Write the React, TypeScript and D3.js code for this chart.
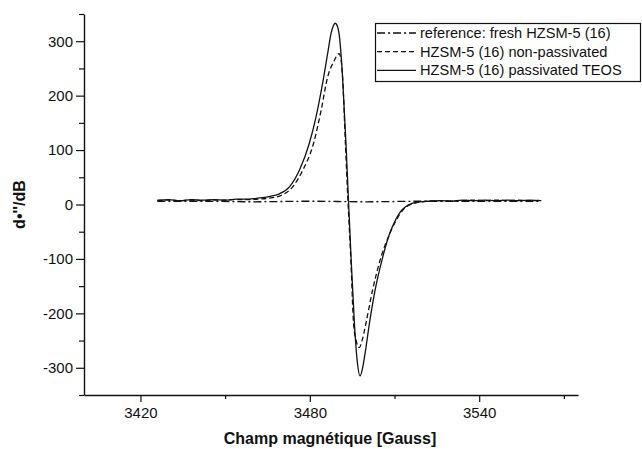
import React, { useRef, useEffect } from 'react';
import * as d3 from 'd3';

// field [Gauss], signal values
const referenceFresh: [number, number][] = [
  [3426, 6], [3440, 6], [3460, 5], [3480, 6], [3500, 5], [3520, 6], [3540, 6], [3562, 6]
];

const nonPassivated: [number, number][] = [
  [3426, 7], [3430, 8], [3434, 7], [3438, 8], [3442, 7], [3446, 8], [3450, 8], [3454, 9],
  [3458, 9], [3462, 10], [3466, 12], [3470, 17], [3474, 33], [3477.5, 63], [3481.3, 112],
  [3484, 173], [3486.3, 234], [3488.7, 265], [3489.6, 274], [3490.4, 277], [3491, 268],
  [3491.6, 234], [3492.6, 112], [3493.5, 7], [3494.5, -97], [3495.5, -219], [3496.5, -252],
  [3497.5, -263], [3498.5, -250], [3500, -215], [3502.2, -158], [3505.2, -97], [3508.1, -56],
  [3510.5, -30], [3512.8, -11], [3517.6, 3], [3522, 6], [3526, 7], [3530, 6], [3534, 7],
  [3538, 8], [3542, 7], [3546, 8], [3550, 7], [3554, 8], [3558, 7], [3562, 8]
];

const passivatedTEOS: [number, number][] = [
  [3426, 8], [3430, 9], [3434, 7], [3438, 9], [3442, 8], [3446, 9], [3450, 8], [3454, 10],
  [3458, 10], [3462, 12], [3466, 15], [3469, 19], [3472.7, 32], [3476.3, 63], [3479.8, 112],
  [3482.2, 161], [3484.5, 222], [3486.3, 277], [3487.5, 314], [3488.3, 328], [3489, 333],
  [3489.8, 327], [3490.4, 312], [3491.6, 234], [3492.8, 112], [3493.7, 7], [3494.6, -97],
  [3495.8, -219], [3496.9, -293], [3497.8, -315], [3498.7, -300], [3499.5, -276],
  [3501.1, -219], [3503.1, -158], [3505.8, -97], [3508.1, -56], [3510.5, -27], [3512.8, -9],
  [3517.6, 4], [3522, 6], [3526, 7], [3530, 6], [3534, 8], [3538, 7], [3542, 8], [3546, 7],
  [3550, 8], [3554, 7], [3558, 8], [3562, 7]
];

const legendLabels = [
  'reference: fresh HZSM-5 (16)',
  'HZSM-5 (16) non-passivated',
  'HZSM-5 (16) passivated TEOS'
];
const dashes = ['8,3,2,3', '5,3', null];

const xMajor = [3420, 3480, 3540];
const xMinor = [3450, 3510, 3570];
const yMajor = [-300, -200, -100, 0, 100, 200, 300];
const yMinor = [-350, -250, -150, -50, 50, 150, 250, 350];

const Chart = () => {
  const ref = useRef<SVGSVGElement>(null);

  useEffect(() => {
    if (!ref.current) return;
    const svg = d3.select(ref.current);
    svg.selectAll('*').remove();

    const width = 642;
    const height = 449;
    svg.attr('width', width).attr('height', height);

    const x = d3.scaleLinear().domain([3400, 3575]).range([84, 578]);
    const y = d3.scaleLinear().domain([-350, 350]).range([395, 14]);
    const ink = '#111';
    const font = '"Liberation Sans", Arial, sans-serif';
    const plain = (d: d3.NumberValue) => String(d);

    // axes
    const xAxis = svg.append('g').attr('transform', `translate(0,${y(-350)})`);
    xAxis.call(d3.axisBottom(x).tickValues(xMinor).tickSize(4).tickFormat(() => ''));
    xAxis.call(g => g.select('.domain').remove());
    const xAxis2 = svg.append('g').attr('transform', `translate(0,${y(-350)})`);
    xAxis2.call(d3.axisBottom(x).tickValues(xMajor).tickSize(7).tickPadding(5).tickSizeOuter(0).tickFormat(plain));

    const yAxis = svg.append('g').attr('transform', `translate(${x(3400)},0)`);
    yAxis.call(d3.axisLeft(y).tickValues(yMinor).tickSize(5).tickFormat(() => ''));
    yAxis.call(g => g.select('.domain').remove());
    const yAxis2 = svg.append('g').attr('transform', `translate(${x(3400)},0)`);
    yAxis2.call(d3.axisLeft(y).tickValues(yMajor).tickSize(8).tickPadding(3).tickSizeOuter(0).tickFormat(plain));

    svg.selectAll('.domain').attr('stroke', ink).attr('stroke-width', 1.4);
    svg.selectAll('.tick line').attr('stroke', ink).attr('stroke-width', 1.2);
    svg.selectAll('.tick text').attr('fill', ink).attr('font-size', 15).attr('font-family', font);

    // axis titles
    svg.append('text')
      .attr('x', 330).attr('y', 444)
      .attr('text-anchor', 'middle')
      .attr('font-family', font).attr('font-size', 16).attr('font-weight', 'bold').attr('fill', ink)
      .text('Champ magnétique [Gauss]');
    svg.append('text')
      .attr('transform', `translate(25,${y(0)}) rotate(-90)`)
      .attr('text-anchor', 'middle')
      .attr('font-family', font).attr('font-size', 16).attr('font-weight', 'bold').attr('fill', ink)
      .text('d•\'\'/dB');

    // curves
    const line = d3.line<[number, number]>()
      .x(d => x(d[0]))
      .y(d => y(d[1]))
      .curve(d3.curveMonotoneX);

    [referenceFresh, nonPassivated, passivatedTEOS].forEach((data, i) => {
      svg.append('path')
        .datum(data)
        .attr('fill', 'none')
        .attr('stroke', ink)
        .attr('stroke-width', 1.3)
        .attr('stroke-dasharray', dashes[i])
        .attr('d', line);
    });

    // legend
    const legend = svg.append('g');
    legend.append('rect')
      .attr('x', 375.5).attr('y', 23.5).attr('width', 265).attr('height', 58)
      .attr('fill', 'white').attr('stroke', ink).attr('stroke-width', 1.2);
    legendLabels.forEach((label, i) => {
      const cy = 33 + i * 18.7;
      legend.append('line')
        .attr('x1', 377).attr('x2', 416).attr('y1', cy).attr('y2', cy)
        .attr('stroke', ink).attr('stroke-width', 1.3)
        .attr('stroke-dasharray', dashes[i]);
      legend.append('text')
        .attr('x', 420).attr('y', cy + 5)
        .attr('font-family', font).attr('font-size', 14.6).attr('fill', ink)
        .text(label);
    });
  }, []);

  return (
    <svg ref={ref} style={{ position: 'absolute', left: 0, top: 0, background: 'white' }} />
  );
};

export default function App() {
  return <Chart />;
}
